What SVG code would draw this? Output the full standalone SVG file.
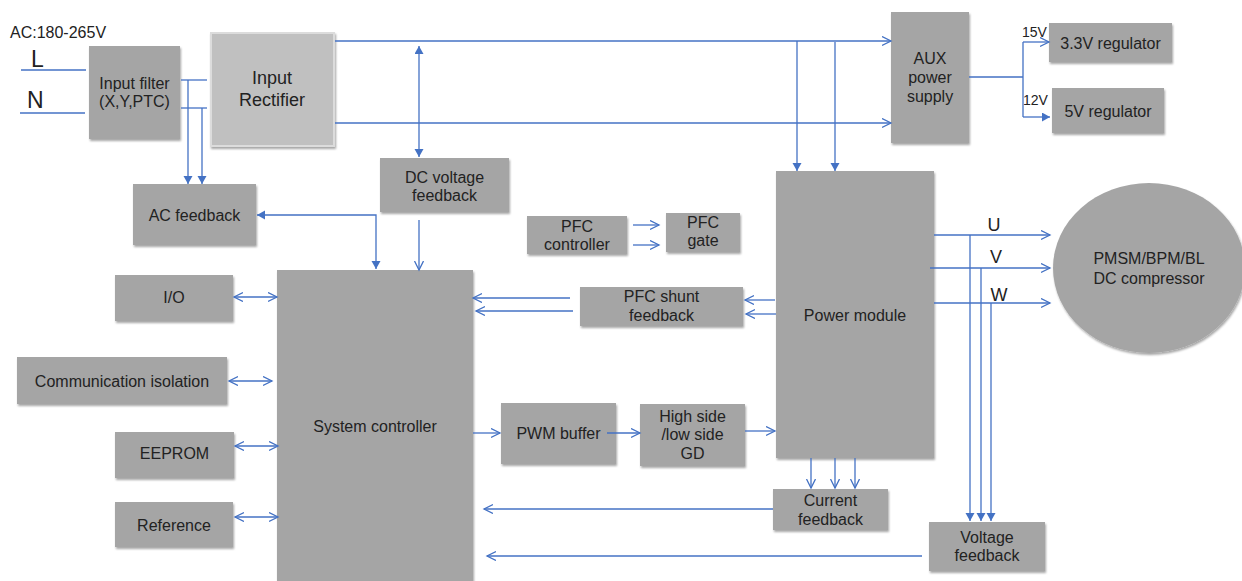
<svg xmlns="http://www.w3.org/2000/svg" width="1242" height="581" viewBox="0 0 1242 581">
<defs>
<style>
.box{fill:#a5a5a5;filter:url(#sh)}
.lt{fill:#c0c0c0;stroke:#dcdcdc;stroke-width:2;filter:url(#sh)}
text{font-family:"Liberation Sans",Arial,sans-serif;font-size:16px;fill:#222;text-anchor:middle}
.l{text-anchor:start}
.c path{fill:none;stroke:#4472c4;stroke-width:1.3}
.o{marker-end:url(#ao)}
.f{marker-end:url(#af)}
.oo{marker-start:url(#ao);marker-end:url(#ao)}
.ff{marker-start:url(#af);marker-end:url(#af)}
</style>
<filter id="sh" x="-10%" y="-10%" width="130%" height="130%">
<feDropShadow dx="1" dy="2" stdDeviation="1.2" flood-color="#000" flood-opacity="0.35"/>
</filter>
<marker id="ao" markerUnits="userSpaceOnUse" markerWidth="12" markerHeight="12" refX="9" refY="5" orient="auto-start-reverse" viewBox="0 0 12 12">
<path d="M0,0.5 L9,5 L0,9.5" fill="none" stroke="#4472c4" stroke-width="1.3"/>
</marker>
<marker id="af" markerUnits="userSpaceOnUse" markerWidth="10" markerHeight="10" refX="8" refY="4.5" orient="auto-start-reverse" viewBox="0 0 10 10">
<path d="M0,0 L8,4.5 L0,9 z" fill="#4472c4"/>
</marker>
</defs>
<rect width="1242" height="581" fill="#fff"/>

<text class="l" x="10" y="38">AC:180-265V</text>
<text class="l" x="31" y="67" style="font-size:23px">L</text>
<text class="l" x="27" y="108" style="font-size:23px">N</text>
<text class="l" x="1022" y="37" style="font-size:14px">15V</text>
<text class="l" x="1023" y="105" style="font-size:14px">12V</text>
<text x="994" y="231" style="font-size:18px">U</text>
<text x="996" y="263" style="font-size:18px">V</text>
<text x="999" y="301" style="font-size:18px">W</text>

<g id="input-filter"><rect class="box" x="89" y="46" width="91" height="93"/><text x="134.5" y="89">Input filter</text><text x="134.5" y="107">(X,Y,PTC)</text></g>
<g id="input-rectifier"><rect class="lt" x="211" y="33" width="123" height="113"/><text x="272" y="84" style="font-size:18px">Input</text><text x="272" y="106" style="font-size:18px">Rectifier</text></g>
<g id="ac-feedback"><rect class="box" x="133" y="184" width="123" height="61"/><text x="194.5" y="221">AC feedback</text></g>
<g id="dc-voltage-feedback"><rect class="box" x="380" y="158" width="129" height="54"/><text x="444.5" y="183">DC voltage</text><text x="444.5" y="201">feedback</text></g>
<g id="pfc-controller"><rect class="box" x="527" y="216" width="100" height="38"/><text x="577" y="232">PFC</text><text x="577" y="250">controller</text></g>
<g id="pfc-gate"><rect class="box" x="666" y="213" width="74" height="39"/><text x="703" y="228">PFC</text><text x="703" y="246">gate</text></g>
<g id="aux-power-supply"><rect class="box" x="891" y="12" width="78" height="131"/><text x="930" y="64">AUX</text><text x="930" y="83">power</text><text x="930" y="102">supply</text></g>
<g id="reg-3v3"><rect class="box" x="1049" y="23" width="123" height="39"/><text x="1110.5" y="49">3.3V regulator</text></g>
<g id="reg-5v"><rect class="box" x="1052" y="88" width="112" height="45"/><text x="1108" y="117">5V regulator</text></g>
<g id="power-module"><rect class="box" x="776" y="171" width="158" height="287"/><text x="855" y="321">Power module</text></g>
<g id="compressor"><ellipse cx="1149" cy="268" rx="96" ry="85" style="fill:#a5a5a5;filter:url(#sh)"/><text x="1149" y="264">PMSM/BPM/BL</text><text x="1149" y="284">DC compressor</text></g>
<g id="system-controller"><rect class="box" x="277" y="270" width="196" height="320"/><text x="375" y="432">System controller</text></g>
<g id="io"><rect class="box" x="115" y="275" width="118" height="46"/><text x="174" y="303">I/O</text></g>
<g id="comm-isolation"><rect class="box" x="17" y="357" width="210" height="47"/><text x="122" y="387">Communication isolation</text></g>
<g id="eeprom"><rect class="box" x="115" y="432" width="119" height="46"/><text x="174.5" y="459">EEPROM</text></g>
<g id="reference"><rect class="box" x="115" y="502" width="118" height="45"/><text x="174" y="531">Reference</text></g>
<g id="pfc-shunt-feedback"><rect class="box" x="580" y="287" width="163" height="39"/><text x="661.5" y="302">PFC shunt</text><text x="661.5" y="321">feedback</text></g>
<g id="pwm-buffer"><rect class="box" x="501" y="403" width="115" height="61"/><text x="558.5" y="439">PWM buffer</text></g>
<g id="gate-driver"><rect class="box" x="640" y="404" width="105" height="62"/><text x="692.5" y="422">High side</text><text x="692.5" y="440">/low side</text><text x="692.5" y="459">GD</text></g>
<g id="current-feedback"><rect class="box" x="773" y="489" width="115" height="41"/><text x="830.5" y="506">Current</text><text x="830.5" y="525">feedback</text></g>
<g id="voltage-feedback"><rect class="box" x="929" y="522" width="116" height="49"/><text x="987" y="543">Voltage</text><text x="987" y="561">feedback</text></g>

<g id="connectors" class="c">
<path d="M21,70 H86"/>
<path d="M20,113 H85"/>
<path d="M181,80 H207"/>
<path d="M181,108 H207"/>
<path class="f" d="M188,80 V184"/>
<path class="f" d="M202,108 V184"/>
<path class="o" d="M335,41 H891"/>
<path class="o" d="M335,123 H891"/>
<path class="ff" d="M419,46 V157"/>
<path class="f" d="M797,41 V171"/>
<path class="f" d="M835,42 V171"/>
<path d="M969,77 H1023 M1023,42 V117"/>
<path class="o" d="M1023,42 H1049"/>
<path class="f" d="M1023,117 H1050"/>
<path class="ff" d="M376,269 V215 H257"/>
<path class="o" d="M419,220 V270"/>
<path class="o" d="M633,225 H659"/>
<path class="o" d="M633,245 H659"/>
<path class="o" d="M775,300 H745"/>
<path class="o" d="M776,314 H746"/>
<path class="o" d="M570,298 H473"/>
<path class="o" d="M573,311 H476"/>
<path class="o" d="M473,433 H500"/>
<path class="o" d="M607,433 H640"/>
<path class="o" d="M745,431 H775"/>
<path class="o" d="M811,458 V488"/>
<path class="o" d="M835,458 V488"/>
<path class="o" d="M855,458 V488"/>
<path class="o" d="M773,509 H484"/>
<path class="o" d="M922,556 H487"/>
<path class="o" d="M934,235 H1050"/>
<path class="o" d="M930,268 H1050"/>
<path class="o" d="M934,303 H1050"/>
<path class="f" d="M970,235 V521"/>
<path class="f" d="M981,268 V521"/>
<path class="f" d="M991,303 V521"/>
<path class="oo" d="M234,297 H277"/>
<path class="oo" d="M229,381 H272"/>
<path class="oo" d="M235,446 H278"/>
<path class="oo" d="M235,517 H278"/>
</g>
</svg>
